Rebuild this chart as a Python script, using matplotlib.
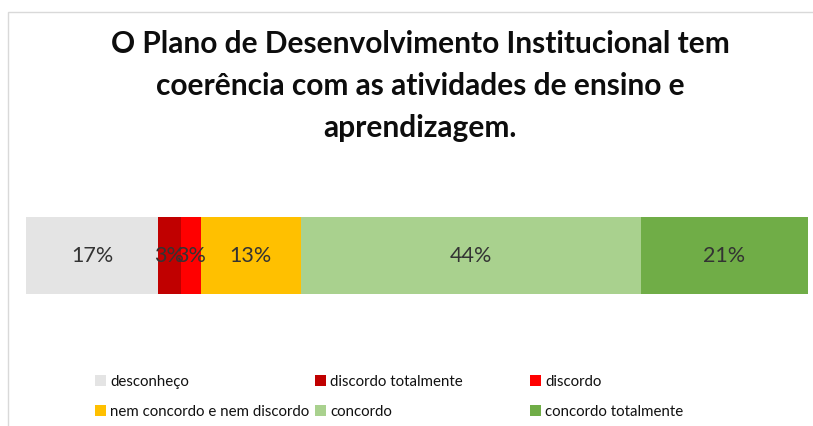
import matplotlib.pyplot as plt
from matplotlib.patches import Rectangle, Patch

# data (share of answers, %)
categories = ['desconheço', 'discordo totalmente', 'discordo',
              'nem concordo e nem discordo', 'concordo', 'concordo totalmente']
values = [16.9, 2.9, 2.6, 12.8, 43.6, 21.4]
colors = ['#E4E4E4', '#C00000', '#FF0000', '#FFC000', '#A9D18E', '#70AD47']
title = 'O Plano de Desenvolvimento Institucional tem\ncoerência com as atividades de ensino e\naprendizagem.'

W, H = 813, 426
fig = plt.figure(figsize=(W / 100, H / 100), dpi=100)
plt.rcParams['font.family'] = ['Lato', 'DejaVu Sans']

# light frame of the chart area
fig.patches.append(Rectangle((8 / W, -0.1), 1.2, 1.1 - 12 / H, transform=fig.transFigure,
                             fill=False, edgecolor='#D9D9D9', lw=1))

# title
fig.text(420 / W, 1 - 86 / H, title, ha='center', va='center', fontsize=21.5,
         fontweight='bold', color='#0D0D0D', linespacing=1.6)

# the stacked bar
ax = fig.add_axes([26 / W, 1 - 294 / H, 782 / W, 77 / H])
left = 0
for v, c in zip(values, colors):
    ax.barh(0, v, left=left, height=1, color=c, edgecolor='none')
    ax.text(left + v / 2, 0, '{:.0f}%'.format(v), ha='center', va='center',
            fontsize=15.5, color='#333333')
    left += v
ax.set_xlim(0, sum(values))
ax.set_ylim(-0.5, 0.5)
ax.axis('off')

# legend: three columns, two rows (row-major like the original)
col_x = [95 / W, 315 / W, 530 / W]
for i in range(3):
    handles = [Patch(facecolor=colors[i], edgecolor='none'),
               Patch(facecolor=colors[i + 3], edgecolor='none')]
    labels = [categories[i], categories[i + 3]]
    leg = fig.legend(handles, labels, loc='upper left', bbox_to_anchor=(col_x[i], 1 - 375 / H),
                     frameon=False, fontsize=10.8, handlelength=0.75, handleheight=0.75,
                     handletextpad=0.25, labelspacing=1.05, borderpad=0, borderaxespad=0)
    for t in leg.get_texts():
        t.set_color('#111111')

fig.savefig('out.png', dpi=100)
